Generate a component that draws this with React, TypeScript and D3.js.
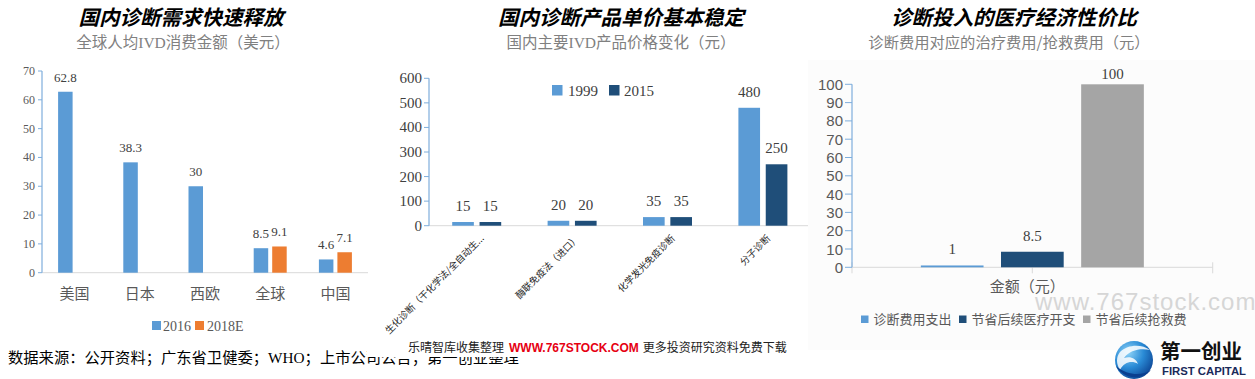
import React from "react";
import * as d3 from "d3";

// ---------- Data ----------
const leftCategories = ["美国", "日本", "西欧", "全球", "中国"];
const leftSeriesNames = ["2016", "2018E"];
const leftValues2016: (number | null)[] = [62.8, 38.3, 30, 8.5, 4.6];
const leftValues2018E: (number | null)[] = [null, null, null, 9.1, 7.1];
const leftTicks = [0, 10, 20, 30, 40, 50, 60, 70];

const midCategories = ["生化诊断（干化学法/全自动生...", "酶联免疫法（进口）", "化学发光免疫诊断", "分子诊断"];
const midSeriesNames = ["1999", "2015"];
const midValues1999 = [15, 20, 35, 480];
const midValues2015 = [15, 20, 35, 250];
const midTicks = [0, 100, 200, 300, 400, 500, 600];

const rightCategories = ["金额（元）"];
const rightSeriesNames = ["诊断费用支出", "节省后续医疗开支", "节省后续抢救费"];
const rightValues = [1, 8.5, 100];
const rightTicks = [0, 10, 20, 30, 40, 50, 60, 70, 80, 90, 100];

const titles = ["国内诊断需求快速释放", "国内诊断产品单价基本稳定", "诊断投入的医疗经济性价比"];
const subtitles = ["全球人均IVD消费金额（美元）", "国内主要IVD产品价格变化（元）", "诊断费用对应的治疗费用/抢救费用（元）"];
const sourceText = "数据来源：公开资料；广东省卫健委；WHO；上市公司公告；第一创业整理";

// ---------- Styles ----------
const SERIF = "'Liberation Serif','DejaVu Serif','Noto Sans CJK SC',serif";
const SANS = "'Liberation Sans',Arial,'Noto Sans CJK SC',sans-serif";
const CJK = "'Noto Sans CJK SC','Noto Sans',sans-serif";
const AXIS_BLUE = "#7FAEDC";
const GRID_GRAY = "#D9D9D9";
const LABEL = "#595959";
const VAL = "#404040";
const BLUE = "#5B9BD5";
const ORANGE = "#ED7D31";
const NAVY = "#1F4E79";
const GRAY = "#A5A5A5";

export default function App() {
  // Left chart scales
  const lx0 = d3.scaleBand<string>().domain(leftCategories).range([42, 368]);
  const lx1 = d3.scaleBand<string>().domain(leftSeriesNames).range([-16.5, 16.5]).paddingInner(0.216);
  const ly = d3.scaleLinear().domain([0, 70]).range([272.7, 71]);
  const leftColor = d3.scaleOrdinal<string, string>().domain(leftSeriesNames).range([BLUE, ORANGE]);
  const leftData = [leftValues2016, leftValues2018E];

  // Middle chart scales
  const mx0 = d3.scaleBand<string>().domain(midCategories).range([429, 810.6]);
  const mx1 = d3.scaleBand<string>().domain(midSeriesNames).range([-24.5, 24.5]).paddingInner(0.208);
  const my = d3.scaleLinear().domain([0, 600]).range([225.7, 78.3]);
  const midColor = d3.scaleOrdinal<string, string>().domain(midSeriesNames).range([BLUE, NAVY]);
  const midData = [midValues1999, midValues2015];

  // Right chart scales
  const rx0 = d3.scaleBand<string>().domain(rightCategories).range([852, 1212.7]);
  const rx1 = d3.scaleBand<string>().domain(rightSeriesNames).range([-111.5, 111.5]).paddingInner(0.218);
  const ry = d3.scaleLinear().domain([0, 100]).range([267.3, 84.3]);
  const rightColor = d3.scaleOrdinal<string, string>().domain(rightSeriesNames).range([BLUE, NAVY, GRAY]);

  const titleX = [181, 621, 1014];
  const subX = [183, 621, 1009];

  return (
    <svg width={1255} height={379} style={{ position: "absolute", left: 0, top: 0, background: "#fff" }}>
      <defs>
        <radialGradient id="globe" cx="0.35" cy="0.3" r="0.8">
          <stop offset="0" stopColor="#8fd3f7" />
          <stop offset="0.5" stopColor="#2a8bd6" />
          <stop offset="1" stopColor="#0a3f8f" />
        </radialGradient>
      </defs>
      <rect x={0} y={0} width={1255} height={379} fill="#fff" />
      <rect x={808} y={60} width={447} height={290} fill="#FCFCFC" />

      {/* Titles */}
      {titles.map((t, i) => (
        <text key={"t" + i} x={titleX[i]} y={25} textAnchor="middle" fontFamily={CJK} fontWeight="bold" fontStyle="italic" fontSize={20.5} fill="#000">{t}</text>
      ))}
      {subtitles.map((t, i) => (
        <text key={"s" + i} x={subX[i]} y={48} textAnchor="middle" fontFamily={i === 2 ? CJK : SERIF} fontSize={i === 2 ? 15.3 : 15.5} fill="#808080">{t}</text>
      ))}

      {/* ===== Left chart ===== */}
      <line x1={42} x2={368} y1={ly(0)} y2={ly(0)} stroke={GRID_GRAY} strokeWidth={1} />
      <line x1={42} x2={42} y1={ly(70)} y2={ly(0)} stroke={AXIS_BLUE} strokeWidth={1.2} />
      {leftTicks.map((t) => (
        <g key={"lt" + t}>
          <line x1={38} x2={42} y1={ly(t)} y2={ly(t)} stroke={AXIS_BLUE} strokeWidth={1} />
          <text x={35} y={ly(t) + 4} textAnchor="end" fontFamily={SERIF} fontSize={12} fill={LABEL}>{t}</text>
        </g>
      ))}
      {leftCategories.map((c, ci) => (
        <g key={"lc" + c}>
          {leftSeriesNames.map((s, si) => {
            const v = leftData[si][ci];
            if (v == null) return null;
            const x = (lx0(c) as number) + lx0.bandwidth() / 2 + (lx1(s) as number);
            return (
              <g key={s}>
                <rect x={x} y={ly(v)} width={lx1.bandwidth()} height={ly(0) - ly(v)} fill={leftColor(s)} />
                <text x={x + lx1.bandwidth() / 2} y={ly(v) - 10} textAnchor="middle" fontFamily={SERIF} fontSize={13} fill={VAL}>{v}</text>
              </g>
            );
          })}
          <text x={(lx0(c) as number) + lx0.bandwidth() / 2} y={299} textAnchor="middle" fontFamily={SERIF} fontSize={15} fill={LABEL}>{c}</text>
        </g>
      ))}
      {/* Left legend */}
      <rect x={152} y={321} width={9} height={9} fill={leftColor("2016")} />
      <text x={163} y={330.5} fontFamily={SERIF} fontSize={14} fill={LABEL}>{leftSeriesNames[0]}</text>
      <rect x={195} y={321} width={9} height={9} fill={leftColor("2018E")} />
      <text x={207} y={330.5} fontFamily={SERIF} fontSize={14} fill={LABEL}>{leftSeriesNames[1]}</text>

      {/* ===== Middle chart ===== */}
      <line x1={429} x2={808} y1={my(0)} y2={my(0)} stroke={GRID_GRAY} strokeWidth={1} />
      <line x1={429} x2={429} y1={my(600)} y2={my(0)} stroke={AXIS_BLUE} strokeWidth={1.2} />
      {midTicks.map((t) => (
        <g key={"mt" + t}>
          <line x1={424} x2={429} y1={my(t)} y2={my(t)} stroke={AXIS_BLUE} strokeWidth={1} />
          <text x={422} y={my(t) + 5} textAnchor="end" fontFamily={SERIF} fontSize={15} fill={VAL}>{t}</text>
        </g>
      ))}
      {midCategories.map((c, ci) => {
        const cx = (mx0(c) as number) + mx0.bandwidth() / 2;
        return (
          <g key={"mc" + ci}>
            {midSeriesNames.map((s, si) => {
              const v = midData[si][ci];
              const x = cx + (mx1(s) as number);
              return (
                <g key={s}>
                  <rect x={x} y={my(v)} width={mx1.bandwidth()} height={my(0) - my(v)} fill={midColor(s)} />
                  <text x={x + mx1.bandwidth() / 2} y={my(v) - 11} textAnchor="middle" fontFamily={SERIF} fontSize={15} fill={VAL}>{v}</text>
                </g>
              );
            })}
            <text transform={`translate(${cx + 8},${239}) rotate(-45)`} textAnchor="end" fontFamily={CJK} fontSize={9.5} fill="#262626">{c}</text>
          </g>
        );
      })}
      {/* Middle legend */}
      <rect x={552} y={85} width={10.5} height={10.5} fill={midColor("1999")} />
      <text x={568} y={95.5} fontFamily={SERIF} fontSize={15} fill={VAL}>{midSeriesNames[0]}</text>
      <rect x={609} y={85} width={10.5} height={10.5} fill={midColor("2015")} />
      <text x={624} y={95.5} fontFamily={SERIF} fontSize={15} fill={VAL}>{midSeriesNames[1]}</text>

      {/* ===== Right chart ===== */}
      <line x1={852} x2={1212.7} y1={ry(0)} y2={ry(0)} stroke={GRID_GRAY} strokeWidth={1} />
      {[852, 1032.3, 1212.7].map((x, i) => (
        <line key={"rxt" + i} x1={x} x2={x} y1={ry(0) - 5} y2={ry(0) + 6} stroke={GRID_GRAY} strokeWidth={1} />
      ))}
      <line x1={852} x2={852} y1={ry(100)} y2={ry(0)} stroke={AXIS_BLUE} strokeWidth={1.2} />
      {rightTicks.map((t) => (
        <g key={"rt" + t}>
          <line x1={845} x2={852} y1={ry(t)} y2={ry(t)} stroke={AXIS_BLUE} strokeWidth={1} />
          <text x={843} y={ry(t) + 5.5} textAnchor="end" fontFamily={SANS} fontSize={15} fill={LABEL}>{t}</text>
        </g>
      ))}
      {rightCategories.map((c) => {
        const cx = (rx0(c) as number) + rx0.bandwidth() / 2;
        return (
          <g key={"rc" + c}>
            {rightSeriesNames.map((s, si) => {
              const v = rightValues[si];
              const x = cx + (rx1(s) as number);
              return (
                <g key={s}>
                  <rect x={x} y={ry(v)} width={rx1.bandwidth()} height={ry(0) - ry(v)} fill={rightColor(s)} />
                  <text x={x + rx1.bandwidth() / 2} y={Math.max(ry(v) - 11, 78.5)} textAnchor="middle" fontFamily={SERIF} fontSize={15} fill={VAL}>{v}</text>
                </g>
              );
            })}
            <text x={cx - 5} y={292} textAnchor="middle" fontFamily={CJK} fontSize={15} fill={LABEL}>{c}</text>
          </g>
        );
      })}
      {/* big light watermark */}
      <text x={1035} y={310} fontFamily={SANS} fontSize={24} letterSpacing={1} fill="#D6D6D6">www.767stock.com</text>
      {/* Right legend */}
      {rightSeriesNames.map((s, i) => {
        const sx = [861, 959, 1083][i];
        return (
          <g key={"rl" + i}>
            <rect x={sx} y={315.5} width={7.5} height={7.5} fill={rightColor(s)} />
            <text x={sx + 12.5} y={324} fontFamily={CJK} fontSize={13} fill={LABEL}>{s}</text>
          </g>
        );
      })}

      {/* ===== Source & watermark ===== */}
      <text x={8} y={363} fontFamily={SERIF} fontSize={15.3} fill="#000">{sourceText}</text>
      <rect x={367} y={336} width={433} height={21} fill="#fff" />
      <text x={408} y={352} fontFamily={CJK} fontSize={12} fill="#222">
        乐晴智库收集整理
        <tspan dx={5} fill="#E60012" fontFamily={SANS} fontWeight="bold" fontSize={12}>WWW.767STOCK.COM</tspan>
        <tspan dx={4}>更多投资研究资料免费下载</tspan>
      </text>

      {/* Logo */}
      <circle cx={1134} cy={360} r={19} fill="url(#globe)" />
      <path d="M1120,352 C1128,344 1142,344 1150,350 C1140,348 1130,350 1124,358 C1130,356 1136,358 1138,364 C1132,360 1124,362 1120,370 C1116,364 1116,357 1120,352 Z" fill="#fff" opacity={0.85} />
      <path d="M1116,366 C1122,378 1140,382 1151,370 C1142,376 1128,376 1116,366 Z" fill="#0a3f8f" />
      <text x={1160} y={359} fontFamily={CJK} fontWeight="bold" fontSize={20.5} fill="#111">第一创业</text>
      <text x={1162} y={375} fontFamily={SANS} fontWeight="bold" fontSize={11.5} textLength={84} lengthAdjust="spacingAndGlyphs" fill="#1A2A5A">FIRST CAPITAL</text>
    </svg>
  );
}
